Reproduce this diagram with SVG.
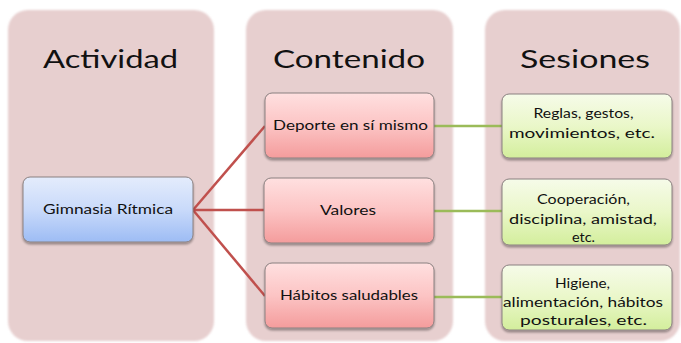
<svg xmlns="http://www.w3.org/2000/svg" width="681" height="343" viewBox="0 0 681 343">
<defs>
<linearGradient id="gBlue" x1="0" y1="0" x2="0" y2="1"><stop offset="0" stop-color="#e4ecfc"/><stop offset="0.5" stop-color="#c9dafa"/><stop offset="1" stop-color="#9dbcf4"/></linearGradient>
<linearGradient id="gPink" x1="0" y1="0" x2="0" y2="1"><stop offset="0" stop-color="#ffe0e0"/><stop offset="0.5" stop-color="#fcc4c4"/><stop offset="1" stop-color="#f49c9c"/></linearGradient>
<linearGradient id="gGreen" x1="0" y1="0" x2="0" y2="1"><stop offset="0" stop-color="#f6fbe9"/><stop offset="0.5" stop-color="#eaf7c9"/><stop offset="1" stop-color="#d3ee9c"/></linearGradient>
<filter id="sh" x="-10%" y="-10%" width="120%" height="130%"><feDropShadow dx="0" dy="2" stdDeviation="1.2" flood-color="#000" flood-opacity="0.35"/></filter>
<filter id="soft" x="-5%" y="-5%" width="110%" height="110%"><feGaussianBlur stdDeviation="1"/></filter>
</defs>
<style>
.col{fill:#e7cfcf;}
.box{stroke:#8a8080;stroke-width:1;filter:url(#sh);}
.title{font-family:Lato,"Open Sans",sans-serif;font-size:25px;fill:#111;text-anchor:middle;}
.lbl{font-family:Lato,"Open Sans",sans-serif;font-size:14px;fill:#111;text-anchor:middle;}
.red{stroke:#c0504d;stroke-width:2.5;fill:none;}
.grn{stroke:#9bbb59;stroke-width:2.5;fill:none;}
</style>
<rect width="681" height="343" fill="#fff"/>
<g id="col-actividad"><rect class="col" x="8" y="10" width="206" height="331" rx="20" filter="url(#soft)"/><text class="title" x="110.5" y="68" textLength="135" lengthAdjust="spacingAndGlyphs">Actividad</text></g>
<g id="col-contenido"><rect class="col" x="246" y="10" width="207" height="331" rx="20" filter="url(#soft)"/><text class="title" x="349" y="68" textLength="152" lengthAdjust="spacingAndGlyphs">Contenido</text></g>
<g id="col-sesiones"><rect class="col" x="485" y="10" width="195" height="331" rx="20" filter="url(#soft)"/><text class="title" x="585" y="68" textLength="130" lengthAdjust="spacingAndGlyphs">Sesiones</text></g>
<g id="connectors">
<path class="red" d="M193 210 L265 126"/>
<path class="red" d="M193 210 L265 210"/>
<path class="red" d="M193 210 L265 296"/>
<path class="grn" d="M434 126 L502 126"/>
<path class="grn" d="M434 211 L502 211"/>
<path class="grn" d="M434 297 L502 297"/>
</g>
<g id="n-gimnasia"><rect class="box" x="23" y="177" width="170" height="65" rx="7" fill="url(#gBlue)"/><text class="lbl" x="108" y="214" textLength="130" lengthAdjust="spacingAndGlyphs">Gimnasia Rítmica</text></g>
<g id="n-deporte"><rect class="box" x="265" y="93" width="169" height="65" rx="7" fill="url(#gPink)"/><text class="lbl" x="350.5" y="130" textLength="155" lengthAdjust="spacingAndGlyphs">Deporte en sí mismo</text></g>
<g id="n-valores"><rect class="box" x="264" y="178" width="170" height="65" rx="7" fill="url(#gPink)"/><text class="lbl" x="348" y="215" textLength="56" lengthAdjust="spacingAndGlyphs">Valores</text></g>
<g id="n-habitos"><rect class="box" x="265" y="263" width="169" height="65" rx="7" fill="url(#gPink)"/><text class="lbl" x="349" y="300" textLength="138" lengthAdjust="spacingAndGlyphs">Hábitos saludables</text></g>
<g id="n-reglas"><rect class="box" x="502" y="94" width="170" height="64" rx="7" fill="url(#gGreen)"/><text class="lbl" x="583.5" y="118" textLength="100" lengthAdjust="spacingAndGlyphs">Reglas, gestos,</text><text class="lbl" x="582" y="138" textLength="146" lengthAdjust="spacingAndGlyphs">movimientos, etc.</text></g>
<g id="n-cooperacion"><rect class="box" x="502" y="179" width="170" height="66" rx="7" fill="url(#gGreen)"/><text class="lbl" x="583.5" y="204" textLength="93" lengthAdjust="spacingAndGlyphs">Cooperación,</text><text class="lbl" x="583" y="224" textLength="148" lengthAdjust="spacingAndGlyphs">disciplina, amistad,</text><text class="lbl" x="583.5" y="242" textLength="23" lengthAdjust="spacingAndGlyphs">etc.</text></g>
<g id="n-higiene"><rect class="box" x="502" y="265" width="170" height="65" rx="7" fill="url(#gGreen)"/><text class="lbl" x="582.5" y="288" textLength="55" lengthAdjust="spacingAndGlyphs">Higiene,</text><text class="lbl" x="583" y="307" textLength="160" lengthAdjust="spacingAndGlyphs">alimentación, hábitos</text><text class="lbl" x="583.5" y="325" textLength="127" lengthAdjust="spacingAndGlyphs">posturales, etc.</text></g>
</svg>
